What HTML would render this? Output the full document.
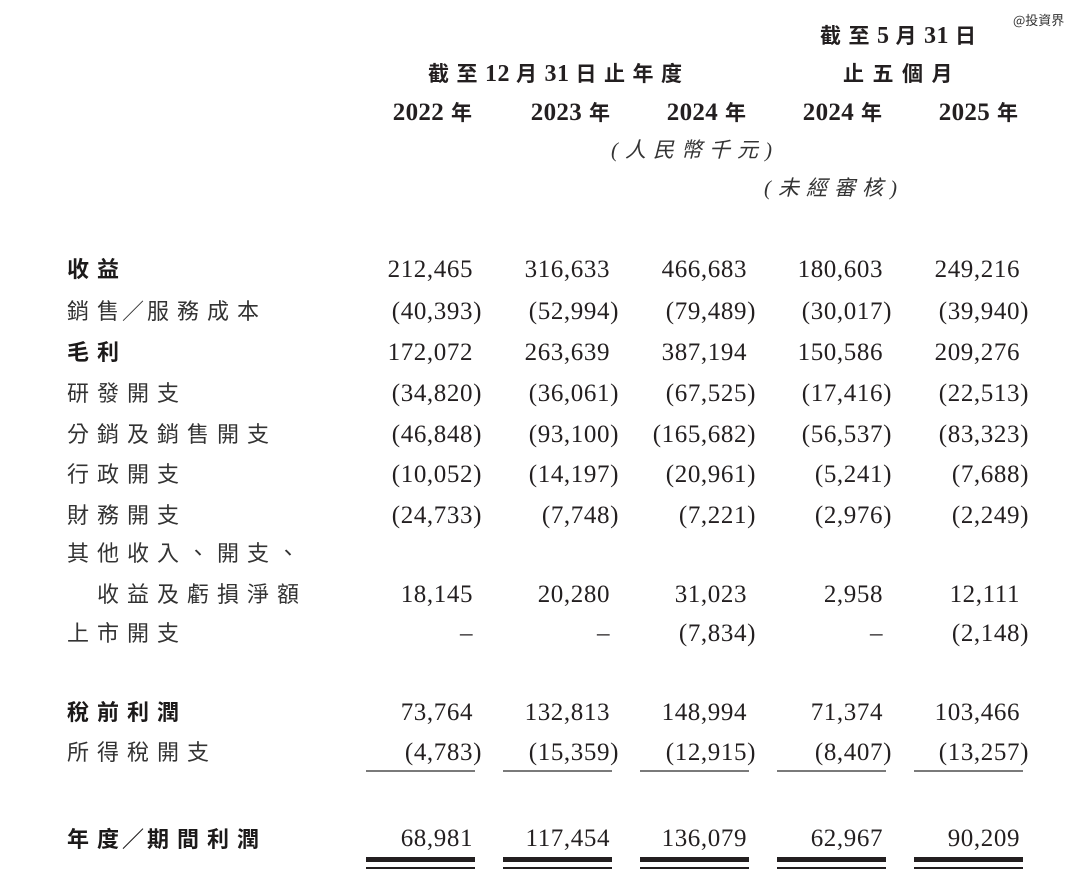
<!DOCTYPE html>
<html><head><meta charset="utf-8">
<style>
html,body{margin:0;padding:0;background:#fff}
body{width:1080px;height:888px;position:relative;overflow:hidden}
.n{position:absolute;font-family:"Liberation Serif",serif;font-size:25px;line-height:25px;letter-spacing:.6px;color:#231f20;white-space:nowrap;text-align:right}
.h{visibility:hidden}
.l{position:absolute;left:67px;font-family:"Noto Sans CJK TC","Noto Sans CJK SC",sans-serif;font-size:22px;line-height:22px;letter-spacing:8px;color:#333;white-space:nowrap}
.b{font-weight:bold;color:#1c1a1a}
.hd{position:absolute;font-family:"Liberation Serif","Noto Sans CJK TC",sans-serif;font-size:21px;line-height:30px;font-weight:bold;color:#231f20;white-space:nowrap;letter-spacing:7.5px}
.d{font-family:"Liberation Serif",serif;font-size:24px;letter-spacing:.5px;margin-right:6px}
.yr{position:absolute;font-family:"Liberation Serif","Noto Sans CJK TC",sans-serif;font-size:21px;line-height:30px;font-weight:bold;color:#231f20;white-space:nowrap;text-align:right}
.yr .d{font-size:25px;letter-spacing:.3px;margin-right:7px}
.it{position:absolute;font-family:"Liberation Serif","Noto Sans CJK TC",sans-serif;font-size:21px;line-height:26px;font-style:italic;color:#333;white-space:nowrap;letter-spacing:7px}
.ul{position:absolute;height:2px;background:#7a7a7a;width:109px;top:770px}
.dt{position:absolute;height:5px;background:#231f20;width:109px;top:857px}
.db{position:absolute;height:1.5px;background:#231f20;width:109px;top:867px}
.wm{position:absolute;left:1013px;top:12px;font-family:"Noto Sans CJK SC",sans-serif;font-size:13px;line-height:16px;color:#333}
.s{letter-spacing:3px}
</style></head><body>

<div class="wm">@投資界</div>

<div class="hd" style="left:820px;top:21px">截至<span class="d">5</span>月<span class="d">31</span>日</div>
<div class="hd" style="left:428px;top:59px">截至<span class="d">12</span>月<span class="d">31</span>日止年度</div>
<div class="hd" style="left:843px;top:59px;letter-spacing:8.5px">止五個月</div>

<div class="yr" style="right:608px;top:98px"><span class="d">2022</span>年</div>
<div class="yr" style="right:470px;top:98px"><span class="d">2023</span>年</div>
<div class="yr" style="right:334px;top:98px"><span class="d">2024</span>年</div>
<div class="yr" style="right:198px;top:98px"><span class="d">2024</span>年</div>
<div class="yr" style="right:62px;top:98px"><span class="d">2025</span>年</div>

<div class="it" style="left:611px;top:137px">(人民幣千元)</div>
<div class="it" style="left:764px;top:175px;letter-spacing:7px">(未經審核)</div>

<!-- labels -->
<div class="l b" style="top:257px">收益</div>
<div class="l" style="top:299px">銷<span class="s">售／</span>服務成本</div>
<div class="l b" style="top:340px">毛利</div>
<div class="l" style="top:381px">研發開支</div>
<div class="l" style="top:422px">分銷及銷售開支</div>
<div class="l" style="top:462px">行政開支</div>
<div class="l" style="top:503px">財務開支</div>
<div class="l" style="top:541px">其他收入、開支、</div>
<div class="l" style="top:582px;left:97px">收益及虧損淨額</div>
<div class="l" style="top:621px">上市開支</div>
<div class="l b" style="top:700px">稅前利潤</div>
<div class="l" style="top:740px">所得稅開支</div>
<div class="l b" style="top:827px">年<span class="s">度／</span>期間利潤</div>

<!-- row 1 -->
<div class="n" style="right:598px;top:257px">212,465<span class="h">)</span></div>
<div class="n" style="right:461px;top:257px">316,633<span class="h">)</span></div>
<div class="n" style="right:324px;top:257px">466,683<span class="h">)</span></div>
<div class="n" style="right:188px;top:257px">180,603<span class="h">)</span></div>
<div class="n" style="right:51px;top:257px">249,216<span class="h">)</span></div>
<!-- row 2 -->
<div class="n" style="right:598px;top:299px">(40,393)</div>
<div class="n" style="right:461px;top:299px">(52,994)</div>
<div class="n" style="right:324px;top:299px">(79,489)</div>
<div class="n" style="right:188px;top:299px">(30,017)</div>
<div class="n" style="right:51px;top:299px">(39,940)</div>
<!-- row 3 -->
<div class="n" style="right:598px;top:340px">172,072<span class="h">)</span></div>
<div class="n" style="right:461px;top:340px">263,639<span class="h">)</span></div>
<div class="n" style="right:324px;top:340px">387,194<span class="h">)</span></div>
<div class="n" style="right:188px;top:340px">150,586<span class="h">)</span></div>
<div class="n" style="right:51px;top:340px">209,276<span class="h">)</span></div>
<!-- row 4 -->
<div class="n" style="right:598px;top:381px">(34,820)</div>
<div class="n" style="right:461px;top:381px">(36,061)</div>
<div class="n" style="right:324px;top:381px">(67,525)</div>
<div class="n" style="right:188px;top:381px">(17,416)</div>
<div class="n" style="right:51px;top:381px">(22,513)</div>
<!-- row 5 -->
<div class="n" style="right:598px;top:422px">(46,848)</div>
<div class="n" style="right:461px;top:422px">(93,100)</div>
<div class="n" style="right:324px;top:422px">(165,682)</div>
<div class="n" style="right:188px;top:422px">(56,537)</div>
<div class="n" style="right:51px;top:422px">(83,323)</div>
<!-- row 6 -->
<div class="n" style="right:598px;top:462px">(10,052)</div>
<div class="n" style="right:461px;top:462px">(14,197)</div>
<div class="n" style="right:324px;top:462px">(20,961)</div>
<div class="n" style="right:188px;top:462px">(5,241)</div>
<div class="n" style="right:51px;top:462px">(7,688)</div>
<!-- row 7 -->
<div class="n" style="right:598px;top:503px">(24,733)</div>
<div class="n" style="right:461px;top:503px">(7,748)</div>
<div class="n" style="right:324px;top:503px">(7,221)</div>
<div class="n" style="right:188px;top:503px">(2,976)</div>
<div class="n" style="right:51px;top:503px">(2,249)</div>
<!-- row 9 -->
<div class="n" style="right:598px;top:582px">18,145<span class="h">)</span></div>
<div class="n" style="right:461px;top:582px">20,280<span class="h">)</span></div>
<div class="n" style="right:324px;top:582px">31,023<span class="h">)</span></div>
<div class="n" style="right:188px;top:582px">2,958<span class="h">)</span></div>
<div class="n" style="right:51px;top:582px">12,111<span class="h">)</span></div>
<!-- row 10 -->
<div class="n" style="right:598px;top:621px">–<span class="h">)</span></div>
<div class="n" style="right:461px;top:621px">–<span class="h">)</span></div>
<div class="n" style="right:324px;top:621px">(7,834)</div>
<div class="n" style="right:188px;top:621px">–<span class="h">)</span></div>
<div class="n" style="right:51px;top:621px">(2,148)</div>
<!-- row 11 -->
<div class="n" style="right:598px;top:700px">73,764<span class="h">)</span></div>
<div class="n" style="right:461px;top:700px">132,813<span class="h">)</span></div>
<div class="n" style="right:324px;top:700px">148,994<span class="h">)</span></div>
<div class="n" style="right:188px;top:700px">71,374<span class="h">)</span></div>
<div class="n" style="right:51px;top:700px">103,466<span class="h">)</span></div>
<!-- row 12 -->
<div class="n" style="right:598px;top:740px">(4,783)</div>
<div class="n" style="right:461px;top:740px">(15,359)</div>
<div class="n" style="right:324px;top:740px">(12,915)</div>
<div class="n" style="right:188px;top:740px">(8,407)</div>
<div class="n" style="right:51px;top:740px">(13,257)</div>

<div class="ul" style="left:366px"></div>
<div class="ul" style="left:503px"></div>
<div class="ul" style="left:640px"></div>
<div class="ul" style="left:777px"></div>
<div class="ul" style="left:914px"></div>

<!-- row 13 -->
<div class="n" style="right:598px;top:826px">68,981<span class="h">)</span></div>
<div class="n" style="right:461px;top:826px">117,454<span class="h">)</span></div>
<div class="n" style="right:324px;top:826px">136,079<span class="h">)</span></div>
<div class="n" style="right:188px;top:826px">62,967<span class="h">)</span></div>
<div class="n" style="right:51px;top:826px">90,209<span class="h">)</span></div>

<div class="dt" style="left:366px"></div>
<div class="dt" style="left:503px"></div>
<div class="dt" style="left:640px"></div>
<div class="dt" style="left:777px"></div>
<div class="dt" style="left:914px"></div>
<div class="db" style="left:366px"></div>
<div class="db" style="left:503px"></div>
<div class="db" style="left:640px"></div>
<div class="db" style="left:777px"></div>
<div class="db" style="left:914px"></div>

</body></html>
